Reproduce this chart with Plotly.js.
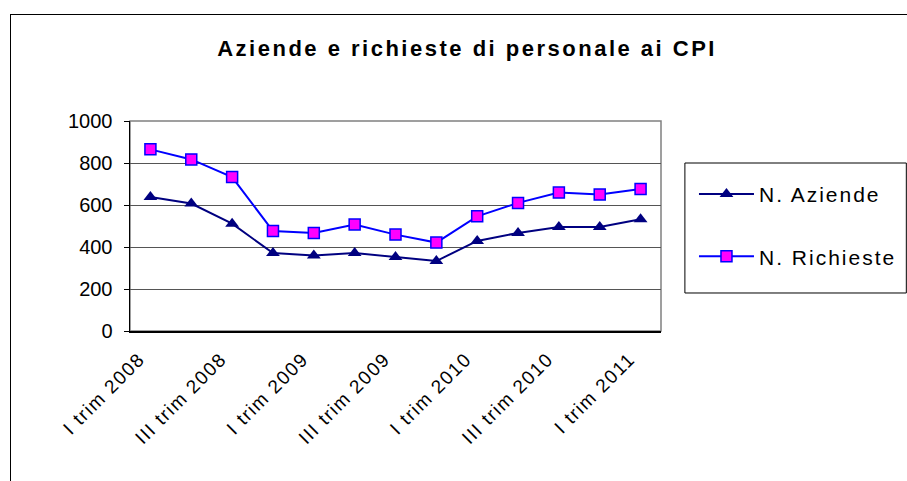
<!DOCTYPE html>
<html>
<head>
<meta charset="utf-8">
<script src="https://cdn.plot.ly/plotly-3.0.1.min.js"></script>
<style>
  html, body { margin: 0; padding: 0; background: #fff; }
  #wrap { position: relative; width: 907px; height: 481px; }
  #chart { width: 907px; height: 481px; }
  #frame { position: absolute; left: 10px; top: 14px; width: 897px; height: 467px;
           border-left: 1px solid #000; border-top: 1px solid #000; pointer-events: none; }
  .gtitle { letter-spacing: 2.5px; }
  .legendtext { letter-spacing: 2px; }
  .xtick text { letter-spacing: 1.5px; }
</style>
</head>
<body>
<div id="wrap">
  <div id="chart"></div>
  <div id="frame"></div>
</div>
<script>
const categories = [
  "I trim 2008", "II trim 2008", "III trim 2008", "IV trim 2008",
  "I trim 2009", "II trim 2009", "III trim 2009", "IV trim 2009",
  "I trim 2010", "II trim 2010", "III trim 2010", "IV trim 2010",
  "I trim 2011"
];
const aziende   = [638, 607, 511, 371, 360, 371, 352, 333, 429, 467, 495, 495, 532];
const richieste = [865, 817, 733, 476, 467, 507, 459, 421, 546, 610, 659, 650, 676];
const shownTicks = ["I trim 2008", "III trim 2008", "I trim 2009", "III trim 2009",
                    "I trim 2010", "III trim 2010", "I trim 2011"];
const seriesNames = ["N. Aziende", "N. Richieste"];

const font = "Liberation Sans, Arial, sans-serif";
const boundaries = categories.map((c, i) => i - 0.5).concat([categories.length - 0.5]);

const traces = [
  {
    x: categories, y: aziende, name: seriesNames[0], type: "scatter", mode: "lines+markers",
    line: { color: "#000080", width: 2 },
    marker: { symbol: "triangle-up", size: 12, color: "#000080" },
    legendgroup: "a"
  },
  {
    x: categories, y: richieste, name: seriesNames[1], type: "scatter", mode: "lines+markers",
    line: { color: "#0000FF", width: 2 },
    marker: { symbol: "square", size: 11, color: "#FF00FF", line: { color: "#0000FF", width: 1.5 } },
    legendgroup: "b"
  }
];

const layout = {
  width: 907, height: 481,
  margin: { l: 130, r: 246, t: 121, b: 150, autoexpand: false },
  paper_bgcolor: "#fff", plot_bgcolor: "#fff",
  font: { family: font, color: "#000" },
  title: {
    text: "<b>Aziende e richieste di personale ai CPI</b>",
    font: { family: font, size: 22, color: "#000" },
    xref: "container", x: 0.515, xanchor: "center",
    yref: "container", y: 0.90, yanchor: "middle"
  },
  xaxis: {
    type: "category", range: [-0.5, categories.length - 0.5],
    tickvals: shownTicks, ticktext: shownTicks, tickangle: -45,
    ticks: "", showgrid: false, showline: true, linecolor: "#000", linewidth: 1.5,
    ticklabelstandoff: 8, ticklabelshift: -11,
    tickfont: { family: font, size: 19, color: "#000" }, zeroline: false
  },
  xaxis2: {
    overlaying: "x", anchor: "y", side: "bottom", type: "linear",
    range: [-0.5, categories.length - 0.5],
    tickmode: "array", tickvals: boundaries, ticks: "outside", ticklen: 5,
    tickcolor: "#000", tickwidth: 1, showticklabels: false, showgrid: false,
    showline: false, zeroline: false
  },
  yaxis: {
    range: [0, 1000], dtick: 200, tick0: 0, ticks: "outside", ticklen: 5, tickcolor: "#000",
    showline: true, linecolor: "#000", linewidth: 1.5, showgrid: true, gridcolor: "#555555",
    gridwidth: 1, zeroline: false, ticklabelstandoff: 7,
    tickfont: { family: font, size: 20, color: "#000" }
  },
  shapes: [
    { type: "rect", xref: "x domain", yref: "y domain", x0: 0, x1: 1, y0: 0, y1: 1,
      line: { color: "#808080", width: 1.5 }, layer: "below" },
    { type: "rect", xref: "paper", yref: "paper", x0: 1.045, x1: 1.462, y0: 0.181, y1: 0.8,
      line: { color: "#000", width: 1 }, fillcolor: "rgba(0,0,0,0)", layer: "below" }
  ],
  showlegend: true,
  legend: {
    x: 1.0621, xanchor: "left", y: 0.748, yanchor: "top",
    borderwidth: 0, bgcolor: "rgba(0,0,0,0)", itemwidth: 55,
    font: { family: font, size: 21, color: "#000" },
    traceorder: "grouped", tracegroupgap: 32
  }
};

Plotly.newPlot("chart", traces, layout, { displayModeBar: false, staticPlot: true });
</script>
</body>
</html>
